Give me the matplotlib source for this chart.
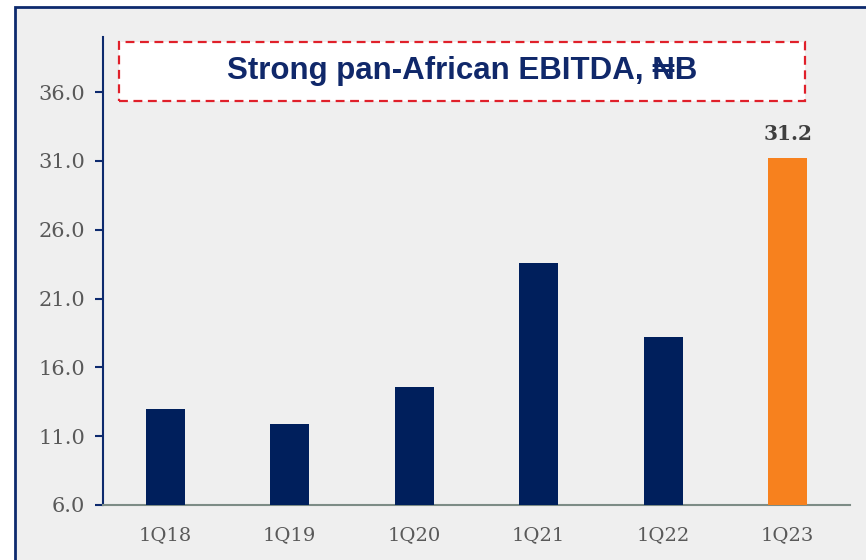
import numpy as np
import matplotlib.pyplot as plt
from matplotlib.patches import Rectangle

# Data
quarters = ['1Q18', '1Q19', '1Q20', '1Q21', '1Q22', '1Q23']
ebitda = [13.0, 11.9, 14.6, 23.6, 18.2, 31.2]
bar_colors = ['#001f5c'] * 5 + ['#f7811e']
yticks = [6.0, 11.0, 16.0, 21.0, 26.0, 31.0, 36.0]

navy = '#0d2a6e'
bg = '#efefef'

fig = plt.figure(figsize=(8.66, 5.6), dpi=100)
fig.patch.set_facecolor('white')

# outer panel with navy frame on top/left
panel = Rectangle((15 / 866, -0.05), 1.1, 1 - 7 / 560 + 0.05,
                  transform=fig.transFigure, facecolor=bg,
                  edgecolor=navy, linewidth=2, zorder=-1)
fig.patches.append(panel)

ax = fig.add_axes([103 / 866, 1 - 505 / 560, 747 / 866, 468 / 560])
ax.set_facecolor('none')
ax.set_zorder(1)

x = np.arange(len(quarters))
ax.bar(x, ebitda, width=0.313, color=bar_colors, zorder=3)

ax.set_xlim(-0.5, 5.5)
ax.set_ylim(6, 40)
ax.set_yticks(yticks)
ax.set_yticklabels([f'{v:.1f}' for v in yticks])
ax.set_xticks(x)
ax.set_xticklabels(quarters)

for s in ['top', 'right']:
    ax.spines[s].set_visible(False)
ax.spines['left'].set_color(navy)
ax.spines['left'].set_linewidth(1.5)
ax.spines['bottom'].set_color('#7d8c86')
ax.spines['bottom'].set_linewidth(1.5)

ax.tick_params(axis='y', length=6, width=1.5, color=navy, pad=7,
               labelsize=15, labelcolor='#595959')
ax.tick_params(axis='x', length=0, pad=15, labelsize=14, labelcolor='#595959')
for lbl in ax.get_xticklabels() + ax.get_yticklabels():
    lbl.set_family('DejaVu Serif')

# value label on the last bar
ax.text(x[-1], ebitda[-1] + 1.0, f'{ebitda[-1]:.1f}', ha='center', va='bottom',
        fontsize=14.5, fontweight='bold', family='DejaVu Serif', color='#3f3f3f')

# title box
box = Rectangle((119 / 866, 1 - 101 / 560), 686 / 866, 59 / 560,
                transform=fig.transFigure, facecolor='white',
                edgecolor='#e0202a', linewidth=1.6, linestyle=(0, (4, 2.5)),
                zorder=5)
fig.patches.append(box)
fig.text(462 / 866, 1 - 71 / 560, 'Strong pan-African EBITDA, \u20a6B',
         ha='center', va='center', fontsize=22.5, fontweight='bold',
         color='#10286a', family=['Liberation Sans', 'DejaVu Sans'], zorder=6)

fig.savefig('out.png', dpi=100)
